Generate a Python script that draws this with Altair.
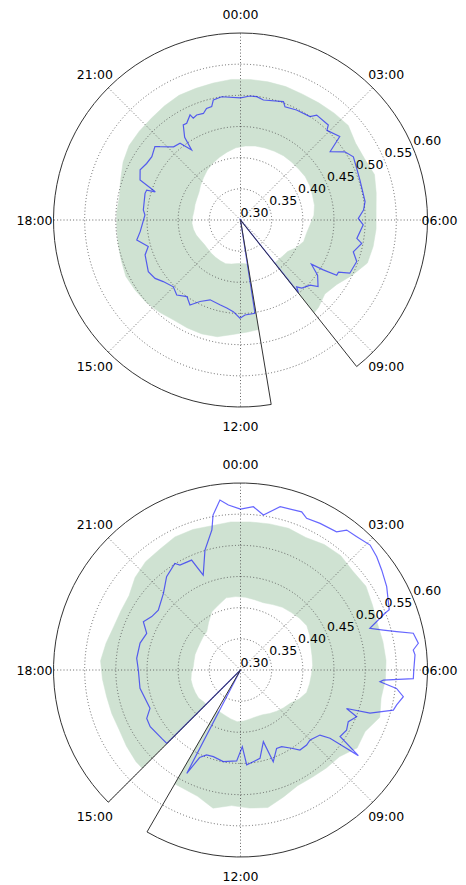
import math
import altair as alt
import pandas as pd

# ---------------- data ----------------
HOUR_TICKS = [0, 3, 6, 9, 12, 15, 18, 21]
HOUR_LABELS = ["00:00", "03:00", "06:00", "09:00", "12:00", "15:00", "18:00", "21:00"]
R_TICKS = [0.30, 0.35, 0.40, 0.45, 0.50, 0.55, 0.60]
R_TICK_LABELS = ["0.30", "0.35", "0.40", "0.45", "0.50", "0.55", "0.60"]
GRID_R = [0.35, 0.40, 0.45, 0.50, 0.55]
R_MIN, R_MAX = 0.30, 0.60

# gaps (hours) where no data exist: (start, end)
top_gap = [9.44, 11.37]
bot_gap = [14.0, 15.0]

# green band: hour of day, lower and upper radius
top_band_h = [0.25, 0.75, 1.25, 1.75, 2.25, 2.75, 3.25, 3.75, 4.25, 4.75, 5.25, 5.75, 6.25,
              6.75, 7.25, 7.75, 8.25, 8.75, 9.22, 9.44,
              11.37, 11.75, 12.25, 12.75, 13.25, 13.75, 14.25, 14.75, 15.25, 15.75, 16.25,
              16.75, 17.25, 17.75, 18.25, 18.75, 19.25, 19.75, 20.25, 20.75, 21.25, 21.75,
              22.25, 22.75, 23.25, 23.75]
top_band_lo = [.419, .421, .422, .423, .424, .424, .424, .425, .424, .422, .421, .418, .412,
               .408, .407, .400, .391, .389, .388, .388,
               .372, .370, .370, .372, .374, .373, .372, .371, .370, .370, .372, .375, .377,
               .378, .377, .376, .377, .378, .380, .385, .390, .396, .401, .406, .411, .416]
top_band_hi = [.526, .526, .526, .525, .526, .528, .530, .522, .522, .527, .522, .518, .518,
               .517, .515, .500, .486, .480, .488, .490,
               .478, .480, .484, .491, .493, .493, .493, .497, .501, .503, .505, .502, .500,
               .499, .499, .498, .503, .510, .515, .516, .517, .520, .523, .523, .524, .526]

bot_band_h = [0.25, 0.75, 1.25, 1.75, 2.25, 2.75, 3.25, 3.75, 4.25, 4.75, 5.25, 5.75, 6.25,
              6.75, 7.25, 7.75, 8.25, 8.75, 9.25, 9.75, 10.25, 10.75, 11.25, 11.75, 12.25,
              12.75, 13.25, 13.75, 14.0,
              15.0, 15.25, 15.75, 16.25, 16.75, 17.25, 17.75, 18.25, 18.75, 19.25, 19.75,
              20.25, 20.75, 21.25, 21.75, 22.25, 22.75, 23.25, 23.75]
bot_band_lo = [.417, .415, .414, .417, .421, .423, .426, .428, .424, .419, .417, .416, .414,
               .413, .412, .405, .396, .392, .388, .384, .380, .379, .380, .382, .383, .380,
               .377, .375, .375,
               .378, .378, .381, .381, .381, .381, .379, .376, .376, .377, .377, .378, .380,
               .382, .392, .404, .410, .418, .418]
bot_band_hi = [.538, .539, .540, .537, .542, .544, .540, .542, .536, .532, .533, .534, .533,
               .530, .536, .523, .525, .511, .509, .507, .507, .515, .525, .522, .518, .526,
               .514, .511, .511,
               .523, .523, .520, .517, .518, .519, .522, .525, .520, .515, .514, .515, .525,
               .531, .533, .538, .538, .536, .538]

# blue series: hour of day and value
top_line_h = [0, 0.29, 0.5, 0.72, 1.33, 1.43, 1.8, 2.26, 2.4, 2.85, 2.93, 3.33, 3.51, 3.79,
              4.05, 4.4, 4.77, 5.44, 5.69, 5.95, 6.15, 6.6, 6.73, 7.05, 7.31, 7.73, 7.87,
              7.99, 8.07, 8.13, 8.37, 8.71, 8.87, 9.2, 9.33, 9.43, 9.5, 11.3, 11.41, 11.82,
              12.02, 12.3, 12.59, 12.91, 13.39, 13.76, 14.05, 14.33, 14.69, 15.01, 15.43,
              15.71, 16.05, 16.66, 16.93, 17.27, 17.56, 18.2, 18.39, 19.04, 19.18, 19.22,
              19.45, 19.77, 20.07, 20.37, 20.71, 20.82, 21.17, 21.45, 21.67, 21.73, 21.93,
              22.06, 22.29, 22.34, 22.49, 22.72, 22.87, 23.05, 23.15, 23.42, 24.0]
top_line_r = [.496, .4995, .4995, .496, .502, .495, .498, .4998, .508, .5075, .4998, .508,
              .481, .500, .5075, .504, .502, .502, .498, .489, .497, .489, .498, .488, .498,
              .495, .478, .478, .455, .434, .452, .464, .453, .447, .440, .449, .30, .30,
              .4515, .4526, .4577, .4475, .443, .440, .437, .446, .4586, .450, .458, .452,
              .4585, .466, .4695, .463, .454, .4695, .462, .4535, .4567, .459, .458, .444,
              .4735, .480, .4758, .4748, .481, .4747, .459, .4567, .437, .46, .478,
              .4775, .487, .480, .4825, .481, .487, .4876, .4975, .500, .496]

bot_line_h = [0, 0.3, 0.56, 0.91, 1.41, 1.57, 1.9, 2.32, 2.48, 2.73, 3.07, 3.35, 3.65, 4.02,
              4.53, 4.57, 4.81, 4.96, 5.08, 5.2, 5.43, 5.56, 5.67, 6.0, 6.19, 6.27, 6.32,
              6.45, 6.62, 6.84, 6.98, 7.23, 7.33, 7.46, 7.71, 7.97, 8.25, 8.4, 8.44, 8.49,
              8.62, 9.01, 9.24, 9.56, 9.79, 10.12, 10.35, 10.69, 10.82, 11.17, 11.75, 11.91,
              12.16, 12.71, 13.16, 13.45, 13.67, 13.83, 13.9, 14.9, 15.01, 15.27, 15.86,
              16.18, 16.47, 17.31, 18.0, 18.43, 19.0, 19.42, 19.76, 20.07, 20.4, 20.99,
              21.44, 21.89, 22.0, 22.4, 22.57, 22.9, 23.23, 23.33, 23.54, 23.72, 24.0]
bot_line_r = [.558, .5628, .5513, .5696, .572, .5655, .5676, .570, .5818, .5837, .5888,
              .5842, .5775, .570, .5574, .549, .518, .538, .558, .5834, .5885, .579, .581,
              .578, .5776, .5297, .5246, .552, .5647, .5567, .5535, .519, .481, .5009,
              .4918, .4956, .4921, .5337, .505, .4806, .4648, .4583, .4604, .4599, .450,
              .4396, .4384, .4562, .4206, .4451, .4527, .423, .446, .4496, .4457, .4468,
              .455, .487, .30, .30, .4668, .4674, .471, .4693, .4577, .4639, .4639, .4676,
              .4668, .4615, .474, .4662, .463, .4744, .4909, .5008, .4944, .493, .4636,
              .5007, .5293, .5524, .5747, .5653, .558]

# ---------------- layout ----------------
W, H = 450, 876
RPX = 187.0                      # outer radius in px
K = (R_MAX - R_MIN) / RPX        # data units per px
CX = 232.5
CY_PX = [212.0, 662.0]
CY = [(CY_PX[0] - c) * K for c in CY_PX]
LABEL_R = (R_MAX - R_MIN) * 206.0 / RPX
EDGE_SHIFT = 7 * K               # pull the 06:00 label inside the page edge
RLABEL_ANG = 67.5

GREEN = "#cfe2d2"
GRID = "#555555"

panels = [
    dict(cy=CY[0], gap=top_gap, bh=top_band_h, lo=top_band_lo, hi=top_band_hi,
         lh=top_line_h, lr=top_line_r),
    dict(cy=CY[1], gap=bot_gap, bh=bot_band_h, lo=bot_band_lo, hi=bot_band_hi,
         lh=bot_line_h, lr=bot_line_r),
]

band_rows, line_rows, grid_rows, spoke_rows, spine_rows, hl_rows, rl_rows = [], [], [], [], [], [], []
for p_i, p in enumerate(panels):
    g0, g1 = p["gap"]
    # order band nodes clockwise starting at the end of the gap
    nodes = sorted(zip(p["bh"], p["lo"], p["hi"]), key=lambda n: n[0] if n[0] >= g1 else n[0] + 24)
    n = len(nodes)
    for k, (h, lo, hi) in enumerate(nodes):
        band_rows.append(dict(panel=p_i, cy=p["cy"], o=k, h=h, r=hi))
        band_rows.append(dict(panel=p_i, cy=p["cy"], o=2 * n - 1 - k, h=h, r=lo))
    for i, (h, r) in enumerate(zip(p["lh"], p["lr"])):
        line_rows.append(dict(panel=p_i, i=i, cy=p["cy"], h=h, r=r))
    for r in GRID_R:
        grid_rows.append(dict(panel=p_i, cx=0.0, cy=p["cy"], r=r, t0=0.0, t1=24.0))
    for h in HOUR_TICKS:
        spoke_rows.append(dict(panel=p_i, cx=0.0, cy=p["cy"], h=h))
    for h, lab in zip(HOUR_TICKS, HOUR_LABELS):
        hl_rows.append(dict(panel=p_i, cy=p["cy"], h=h, label=lab))
    for r, lab in zip(R_TICKS, R_TICK_LABELS):
        rl_rows.append(dict(panel=p_i, cy=p["cy"], r=r, label=lab))
    spine_rows.append(dict(panel=p_i, cx=0.0, cy=p["cy"], a0=g1, a1=g0 + 24.0, rr=R_MAX))

xs = alt.Scale(domain=[-CX * K, (W - CX) * K], nice=False, zero=False)
ys = alt.Scale(domain=[-(H - CY_PX[0]) * K, CY_PX[0] * K], nice=False, zero=False)
ths = alt.Scale(domain=[0, 24], range=[0, 2 * math.pi])
rs = alt.Scale(type="linear", domain=[R_MIN, R_MAX], range=[0, RPX], zero=False)

X0 = alt.X("cx:Q", scale=xs, axis=None)
Y0 = alt.Y("cy:Q", scale=ys, axis=None)

POLAR_X = "(datum.r - 0.3) * sin(datum.h / 24 * 2 * PI)"
POLAR_Y = "datum.cy + (datum.r - 0.3) * cos(datum.h / 24 * 2 * PI)"

band = alt.Chart(pd.DataFrame(band_rows)).transform_calculate(
    px=POLAR_X, py=POLAR_Y
).mark_line(color=GREEN, fill=GREEN, strokeWidth=0.5).encode(
    x=alt.X("px:Q", scale=xs, axis=None),
    y=alt.Y("py:Q", scale=ys, axis=None),
    order="o:Q",
    detail="panel:N",
)

grid = alt.Chart(pd.DataFrame(grid_rows)).mark_arc(
    filled=False, color=GRID, strokeWidth=0.9, strokeDash=[1, 2.2]
).encode(
    x=X0, y=Y0,
    theta=alt.Theta("t0:Q", scale=ths, stack=False),
    theta2=alt.Theta2("t1:Q"),
    radius=alt.Radius("r:Q", scale=rs),
)

spokes = alt.Chart(pd.DataFrame(spoke_rows)).transform_calculate(
    ex="0.3 * sin(datum.h / 24 * 2 * PI)",
    ey="datum.cy + 0.3 * cos(datum.h / 24 * 2 * PI)",
).mark_rule(color=GRID, strokeWidth=0.9, strokeDash=[1, 2.2]).encode(
    x=X0, y=Y0, x2="ex:Q", y2="ey:Q"
)

line = alt.Chart(pd.DataFrame(line_rows)).transform_calculate(
    px=POLAR_X, py=POLAR_Y
).mark_line(color="#0000ff", opacity=0.6, strokeWidth=1.2).encode(
    x=alt.X("px:Q", scale=xs, axis=None),
    y=alt.Y("py:Q", scale=ys, axis=None),
    order="i:Q",
    detail="panel:N",
)

spine = alt.Chart(pd.DataFrame(spine_rows)).mark_arc(
    filled=False, color="#333333", strokeWidth=1.0
).encode(
    x=X0, y=Y0,
    theta=alt.Theta("a0:Q", scale=ths, stack=False),
    theta2=alt.Theta2("a1:Q"),
    radius=alt.Radius("rr:Q", scale=rs),
)

hour_labels = alt.Chart(pd.DataFrame(hl_rows)).transform_calculate(
    lx=f"{LABEL_R} * sin(datum.h / 24 * 2 * PI) - (datum.h == 6 ? {EDGE_SHIFT} : 0)",
    ly=f"datum.cy + {LABEL_R} * cos(datum.h / 24 * 2 * PI)",
).mark_text(font="DejaVu Sans", fontSize=12.5, align="center", baseline="middle",
            color="black", dy=1).encode(
    x=alt.X("lx:Q", scale=xs, axis=None),
    y=alt.Y("ly:Q", scale=ys, axis=None),
    text="label:N",
)

sa = math.sin(math.radians(RLABEL_ANG))
ca = math.cos(math.radians(RLABEL_ANG))
r_labels = alt.Chart(pd.DataFrame(rl_rows)).transform_calculate(
    lx=f"(datum.r - 0.3) * {sa}",
    ly=f"datum.cy + (datum.r - 0.3) * {ca}",
).mark_text(font="DejaVu Sans", fontSize=12.5, align="left", baseline="bottom",
            color="black").encode(
    x=alt.X("lx:Q", scale=xs, axis=None),
    y=alt.Y("ly:Q", scale=ys, axis=None),
    text="label:N",
)

chart = alt.layer(band, grid, spokes, line, spine, hour_labels, r_labels).properties(
    width=W, height=H, padding=0,
    autosize=alt.AutoSizeParams(type="none"),
    background="white",
).configure_view(stroke=None)

chart.save("out.html", embed_options={"renderer": "svg", "actions": False})
